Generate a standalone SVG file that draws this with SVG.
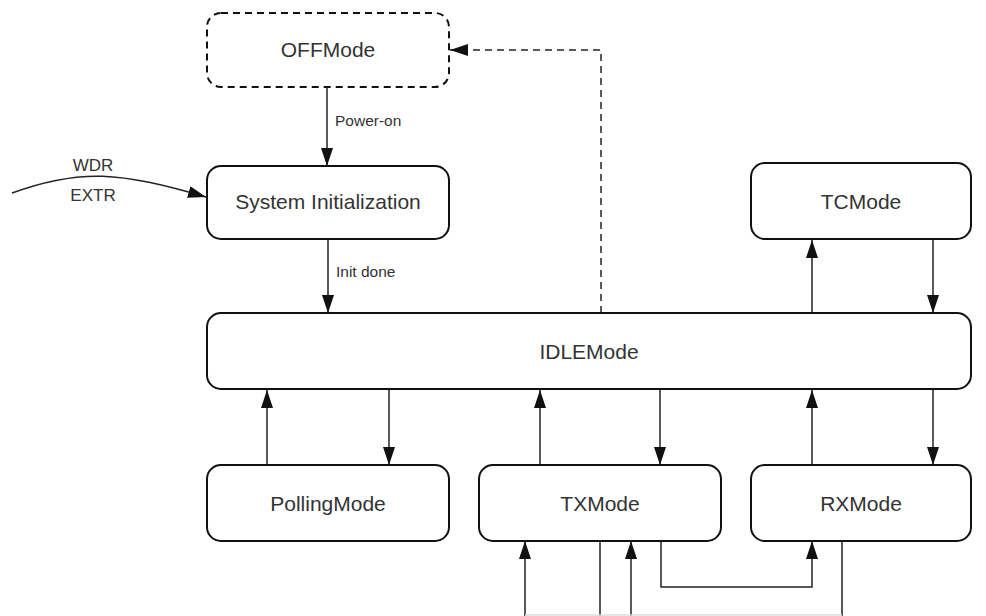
<svg xmlns="http://www.w3.org/2000/svg" width="986" height="616" viewBox="0 0 986 616">
<style>
.node{fill:#fff;stroke:#111;stroke-width:2}
.dash{stroke-dasharray:7,5}
.lbl{font-family:"Liberation Sans",Arial,sans-serif;font-size:21px;fill:#333;text-anchor:middle}
.elbl{font-family:"Liberation Sans",Arial,sans-serif;font-size:15.5px;fill:#333}
.c{fill:none;stroke:#222;stroke-width:1.5}
</style>
<defs>
<marker id="ah" viewBox="0 0 18 12" refX="18" refY="6" markerWidth="18" markerHeight="12" markerUnits="userSpaceOnUse" orient="auto">
<path d="M0,0 L18,6 L0,12 Z" fill="#111"/>
</marker>
</defs>
<g id="connectors">
<line class="c" x1="327" y1="87" x2="327" y2="166" marker-end="url(#ah)"/>
<text class="elbl" x="335" y="126">Power-on</text>
<line class="c" x1="328" y1="239" x2="328" y2="313" marker-end="url(#ah)"/>
<text class="elbl" x="336" y="277">Init done</text>
<path class="c dash" d="M601,313 V50 H450" marker-end="url(#ah)"/>
<path class="c" d="M12,193 C80,168 120,172 206,197" marker-end="url(#ah)"/>
<text class="elbl" style="font-size:17px" x="93" y="171" text-anchor="middle">WDR</text>
<text class="elbl" style="font-size:17px" x="93" y="201" text-anchor="middle">EXTR</text>
<line class="c" x1="812" y1="313" x2="812" y2="240" marker-end="url(#ah)"/>
<line class="c" x1="933" y1="239" x2="933" y2="313" marker-end="url(#ah)"/>
<line class="c" x1="267" y1="465" x2="267" y2="390" marker-end="url(#ah)"/>
<line class="c" x1="389" y1="390" x2="389" y2="465" marker-end="url(#ah)"/>
<line class="c" x1="540" y1="465" x2="540" y2="390" marker-end="url(#ah)"/>
<line class="c" x1="660" y1="390" x2="660" y2="465" marker-end="url(#ah)"/>
<line class="c" x1="812" y1="465" x2="812" y2="390" marker-end="url(#ah)"/>
<line class="c" x1="933" y1="390" x2="933" y2="465" marker-end="url(#ah)"/>
<line class="c" x1="525" y1="616" x2="525" y2="541" marker-end="url(#ah)"/>
<line class="c" x1="600" y1="541" x2="600" y2="616"/>
<line class="c" x1="631" y1="616" x2="631" y2="541" marker-end="url(#ah)"/>
<path class="c" d="M661,541 V587 H812 V541" marker-end="url(#ah)"/>
<line class="c" x1="842" y1="541" x2="842" y2="616"/>
<line x1="525" y1="615" x2="842" y2="615" stroke="#ddd" stroke-width="1.5"/>
</g>
<g id="OFFMode"><rect class="node dash" x="207" y="13" width="242" height="74" rx="14"/><text class="lbl" x="328" y="57">OFFMode</text></g>
<g id="SystemInit"><rect class="node" x="207" y="166" width="242" height="73" rx="14"/><text class="lbl" x="328" y="209">System Initialization</text></g>
<g id="TCMode"><rect class="node" x="751" y="163" width="220" height="76" rx="14"/><text class="lbl" x="861" y="209">TCMode</text></g>
<g id="IDLEMode"><rect class="node" x="207" y="313" width="764" height="76" rx="14"/><text class="lbl" x="589" y="359">IDLEMode</text></g>
<g id="PollingMode"><rect class="node" x="207" y="465" width="242" height="76" rx="14"/><text class="lbl" x="328" y="511">PollingMode</text></g>
<g id="TXMode"><rect class="node" x="479" y="465" width="242" height="76" rx="14"/><text class="lbl" x="600" y="511">TXMode</text></g>
<g id="RXMode"><rect class="node" x="751" y="465" width="220" height="76" rx="14"/><text class="lbl" x="861" y="511">RXMode</text></g>
</svg>
